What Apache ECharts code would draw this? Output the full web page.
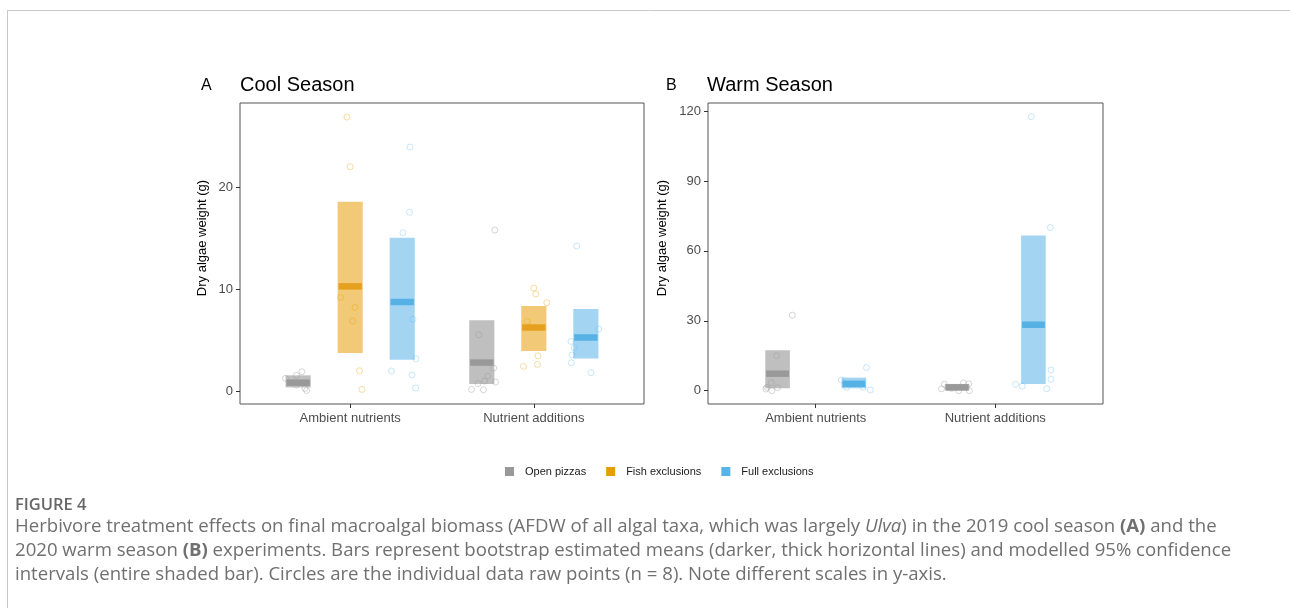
<!DOCTYPE html>
<html>
<head>
<meta charset="utf-8">
<script src="https://cdn.jsdelivr.net/npm/echarts@6/dist/echarts.min.js"></script>
<style>
html,body{margin:0;padding:0;background:#fff;}
#chart{width:1290px;height:608px;}
</style>
</head>
<body>
<div id="chart"></div>
<script>
// ---------- DATA ----------
const categories = ['Ambient nutrients', 'Nutrient additions'];
const groups = ['Open pizzas', 'Fish exclusions', 'Full exclusions'];
const coolTicks = [0, 10, 20];
const warmTicks = [0, 30, 60, 90, 120];

// Cool season: 95% CI [low, high] per category, bootstrap means per category
const coolOpenCI = [[0.36, 1.54], [0.69, 6.93]];
const coolOpenMean = [0.82, 2.79];
const coolFishCI = [[3.73, 18.56], [3.92, 8.33]];
const coolFishMean = [10.26, 6.23];
const coolFullCI = [[3.07, 15.03], [3.20, 8.04]];
const coolFullMean = [8.73, 5.25];

// Warm season (no fish exclusions)
const warmOpenCI = [[1.03, 17.35], [0.20, 2.90]];
const warmOpenMean = [7.30, 1.40];
const warmFullCI = [[1.03, 5.60], [2.88, 66.6]];
const warmFullMean = [2.95, 28.3];

// Raw points: [categoryIndex, value, horizontal jitter]
const coolOpenPts = [[0,1.24,-0.069],[0,1.53,-0.009],[0,1.89,0.020],[0,0.59,-0.009],[0,0.26,0.037],[0,0.05,0.046],
  [1,15.78,0.071],[1,5.52,-0.016],[1,2.25,0.065],[1,1.47,0.033],[1,0.98,0.015],[1,0.88,0.075],[1,0.72,-0.020],[1,0.16,-0.056],[1,0.13,0.009]];
const coolFishPts = [[0,26.86,-0.018],[0,21.99,0.0],[0,9.18,-0.052],[0,8.20,0.026],[0,6.86,0.013],[0,1.99,0.051],[0,0.16,0.064],
  [1,10.10,0.0],[1,9.51,0.011],[1,8.66,0.071],[1,6.83,-0.036],[1,3.46,0.023],[1,2.61,0.020],[1,2.42,-0.056]];
const coolFullPts = [[0,23.92,0.042],[0,17.52,0.040],[0,15.52,0.004],[0,7.03,0.058],[0,3.17,0.075],[0,1.96,-0.058],[0,1.57,0.053],[0,0.29,0.073],
  [1,14.22,-0.050],[1,6.08,0.070],[1,4.87,-0.081],[1,4.25,-0.063],[1,3.53,-0.075],[1,2.78,-0.079],[1,1.80,0.028]];
const warmOpenPts = [[0,32.4,0.082],[0,15.03,-0.005],[0,3.44,-0.035],[0,1.43,-0.060],[0,0.70,-0.065],[0,0.0,-0.032],[0,1.29,0.0],
  [1,0.8,-0.087],[1,2.8,-0.071],[1,0.0,0.009],[1,3.3,0.035],[1,2.9,0.065],[1,0.0,0.068],[1,1.0,-0.030]];
const warmFullPts = [[0,9.9,0.070],[0,4.6,-0.070],[0,1.46,-0.040],[0,1.46,0.051],[0,0.3,0.092],
  [1,117.6,-0.012],[1,70.0,0.094],[1,8.9,0.098],[1,4.9,0.098],[1,2.75,-0.099],[1,2.0,-0.062],[1,0.86,0.074]];

// ---------- STYLE ----------
const FONT = "'Liberation Sans', Arial, sans-serif";
const CAPFONT = "'Open Sans', sans-serif";
const colors = {
  'Open pizzas':     {main:'#999999', bar:'#bfbfbf', mean:'#999999', pt:'rgba(153,153,153,0.5)'},
  'Fish exclusions': {main:'#E69F00', bar:'#f2c977', mean:'#e6a020', pt:'rgba(230,159,0,0.45)'},
  'Full exclusions': {main:'#56B4E9', bar:'#a3d5f3', mean:'#56b1e4', pt:'rgba(86,180,233,0.4)'}
};
const DODGE = 0.85, BAR_W = 0.137;
function dodge(i, n){ return DODGE * ((i + 0.5) / n - 0.5); }

function barSeries(name, ci, means, gi, n, axis){
  const c = colors[name];
  return {
    type:'custom', name, xAxisIndex:axis, yAxisIndex:axis, z:2,
    encode:{x:0, y:[1,2,3]},
    data: categories.map((cat,k)=>[k + 1 + dodge(gi,n), ci[k][0], ci[k][1], means[k]]),
    itemStyle:{color:c.main},
    renderItem:function(params, api){
      const x = api.value(0);
      const lo = api.coord([x, api.value(1)]);
      const hi = api.coord([x, api.value(2)]);
      const m = api.coord([x, api.value(3)]);
      const w = api.size([BAR_W, 0])[0];
      const mw = w * 0.93;
      return {type:'group', children:[
        {type:'rect', shape:{x:lo[0]-w/2, y:hi[1], width:w, height:lo[1]-hi[1]}, style:{fill:c.bar}},
        {type:'rect', shape:{x:m[0]-mw/2, y:m[1]-3.25, width:mw, height:6.5}, style:{fill:c.mean}}
      ]};
    }
  };
}
function ptSeries(name, pts, gi, n, axis){
  const c = colors[name];
  return {
    type:'scatter', name, xAxisIndex:axis, yAxisIndex:axis, z:3,
    symbol:'circle', symbolSize:6, silent:true,
    itemStyle:{color:'rgba(0,0,0,0)', borderColor:c.pt, borderWidth:1},
    data: pts.map(p=>[p[0] + 1 + dodge(gi,n) + p[2], p[1]])
  };
}

function xAxis(gi){
  return {
    type:'value', gridIndex:gi, position:'bottom', min:0.4, max:2.6,
    axisLine:{show:false, onZero:false}, splitLine:{show:false},
    axisTick:{show:true, inside:false, customValues:[1,2], length:4, lineStyle:{color:'#333'}},
    axisLabel:{customValues:[1,2], formatter:v=>categories[Math.round(v)-1] || '', fontSize:13, color:'#4d4d4d', fontFamily:FONT, margin:8}
  };
}
function yAxis(gi, min, max, ticks){
  return {
    type:'value', gridIndex:gi, position:'left', min, max,
    axisLine:{show:false, onZero:false}, splitLine:{show:false},
    axisTick:{show:true, inside:false, customValues:ticks, length:4, lineStyle:{color:'#333'}},
    axisLabel:{customValues:ticks, fontSize:13, color:'#4d4d4d', fontFamily:FONT, margin:7}
  };
}

const CAPSIZE = 18.6;
const captionRich = {
  i:{fontStyle:'italic', fontFamily:CAPFONT, fontSize:CAPSIZE, fill:'#707070'},
  b:{fontWeight:'bold', fontFamily:CAPFONT, fontSize:CAPSIZE, fill:'#707070'}
};
function capLine(text, y){
  return {type:'text', x:15, y:y, style:{text, fill:'#707070', font:CAPSIZE+"px "+CAPFONT, verticalAlign:'middle', rich:captionRich}};
}

const option = {
  backgroundColor:'#fff',
  animation:false,
  grid:[
    {left:240, top:103, width:404, height:301, show:true, borderColor:'#555', borderWidth:1, backgroundColor:'transparent'},
    {left:708, top:103, width:395, height:301, show:true, borderColor:'#555', borderWidth:1, backgroundColor:'transparent'}
  ],
  xAxis:[xAxis(0), xAxis(1)],
  yAxis:[yAxis(0,-1.27,28.24,coolTicks), yAxis(1,-5.71,123.45,warmTicks)],
  legend:{
    left:505, top:466, padding:0, icon:'rect', itemWidth:9, itemHeight:9, itemGap:20,
    selectedMode:false,
    textStyle:{fontSize:11, color:'#1a1a1a', fontFamily:FONT, padding:[0,0,0,6]},
    data: groups.map(g=>({name:g, icon:'rect', itemStyle:{color:colors[g].main}}))
  },
  series:[
    barSeries('Open pizzas', coolOpenCI, coolOpenMean, 0, 3, 0),
    barSeries('Fish exclusions', coolFishCI, coolFishMean, 1, 3, 0),
    barSeries('Full exclusions', coolFullCI, coolFullMean, 2, 3, 0),
    barSeries('Open pizzas', warmOpenCI, warmOpenMean, 0, 2, 1),
    barSeries('Full exclusions', warmFullCI, warmFullMean, 1, 2, 1),
    ptSeries('Open pizzas', coolOpenPts, 0, 3, 0),
    ptSeries('Fish exclusions', coolFishPts, 1, 3, 0),
    ptSeries('Full exclusions', coolFullPts, 2, 3, 0),
    ptSeries('Open pizzas', warmOpenPts, 0, 2, 1),
    ptSeries('Full exclusions', warmFullPts, 1, 2, 1)
  ],
  graphic:[
    {type:'line', shape:{x1:7, y1:10.5, x2:1290, y2:10.5}, style:{stroke:'#c8c8c8', lineWidth:1}},
    {type:'line', shape:{x1:7.5, y1:10, x2:7.5, y2:608}, style:{stroke:'#c8c8c8', lineWidth:1}},
    {type:'text', x:201, y:86, style:{text:'A', fill:'#000', font:"16px "+FONT, verticalAlign:'middle'}},
    {type:'text', x:240, y:85, style:{text:'Cool Season', fill:'#000', font:"20px "+FONT, verticalAlign:'middle'}},
    {type:'text', x:666, y:86, style:{text:'B', fill:'#000', font:"16px "+FONT, verticalAlign:'middle'}},
    {type:'text', x:707, y:85, style:{text:'Warm Season', fill:'#000', font:"20px "+FONT, verticalAlign:'middle'}},
    {type:'text', x:202, y:238, rotation:Math.PI/2, style:{text:'Dry algae weight (g)', fill:'#000', font:"13px "+FONT, align:'center', verticalAlign:'middle'}},
    {type:'text', x:662, y:238, rotation:Math.PI/2, style:{text:'Dry algae weight (g)', fill:'#000', font:"13px "+FONT, align:'center', verticalAlign:'middle'}},
    {type:'text', x:15, y:505, style:{text:'FIGURE 4', fill:'#666', font:"600 16.5px "+CAPFONT, verticalAlign:'middle'}},
    capLine('Herbivore treatment effects on final macroalgal biomass (AFDW of all algal taxa, which was largely {i|Ulva}) in the 2019 cool season {b|(A)} and the', 527),
    capLine('2020 warm season {b|(B)} experiments. Bars represent bootstrap estimated means (darker, thick horizontal lines) and modelled 95% confidence', 551),
    capLine('intervals (entire shaded bar). Circles are the individual data raw points (n = 8). Note different scales in y-axis.', 575)
  ]
};
const chart = echarts.init(document.getElementById('chart'), null, {renderer:'canvas'});
chart.setOption(option);
</script>
</body>
</html>
